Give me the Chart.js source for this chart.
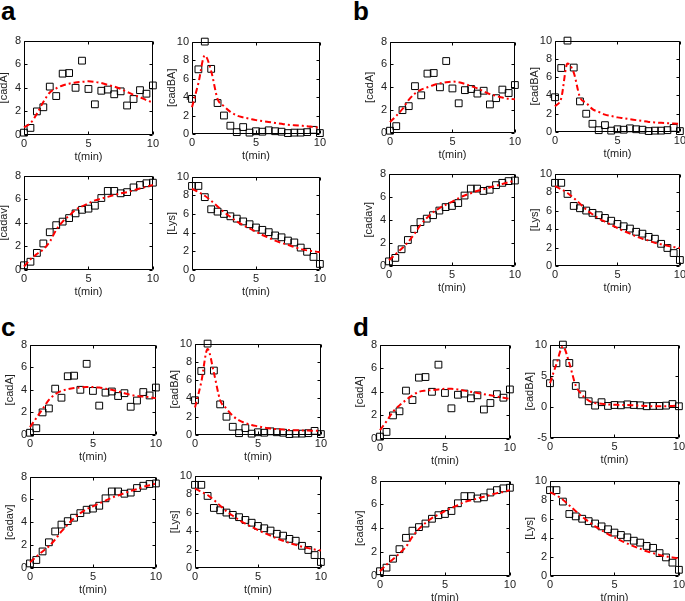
<!DOCTYPE html>
<html lang="en">
<head>
    <meta charset="UTF-8">
    <title>cadBA model fits</title>
    <script src="https://cdn.jsdelivr.net/npm/chart.js"></script>
    <style>
        html, body {
            margin: 0;
            padding: 0;
            width: 685px;
            height: 601px;
            overflow: hidden;
            background: #fff;
        }
        canvas {
            position: absolute;
        }
        .panelLetter {
            position: absolute;
            font: bold 26px "Liberation Sans", Arial, sans-serif;
            color: #000;
            line-height: 1;
        }
    </style>
</head>
<body>
<div class="panelLetter" style="left:1px;top:-2px">a</div>
<div class="panelLetter" style="left:353px;top:-2px">b</div>
<div class="panelLetter" style="left:1px;top:314px">c</div>
<div class="panelLetter" style="left:353px;top:314px">d</div>

<script>
    // sampling times (min)
    const tMin = [0, 0.5, 1, 1.5, 2, 2.5, 3, 3.5, 4, 4.5, 5, 5.5, 6, 6.5, 7, 7.5, 8, 8.5, 9, 9.5, 10];

    // measured data (same in every panel)
    const cadAData  = [0.2, 0.6, 2.0, 2.35, 4.1, 3.3, 5.2, 5.25, 4.0, 6.3, 3.9, 2.6, 3.75, 3.85, 3.45, 3.7, 2.5, 3.05, 3.8, 3.5, 4.2];
    const cadBAData = [3.8, 7.0, 10.0, 7.05, 3.35, 2.0, 0.9, 0.2, 0.75, 0.15, 0.3, 0.25, 0.4, 0.3, 0.25, 0.1, 0.15, 0.15, 0.2, 0.45, 0.1];
    const cadavData = [0.4, 0.7, 1.45, 2.25, 3.2, 3.8, 4.1, 4.4, 4.8, 5.1, 5.2, 5.45, 6.1, 6.7, 6.7, 6.5, 6.6, 7.0, 7.2, 7.35, 7.4];
    const lysData   = [9.0, 9.0, 7.8, 6.5, 6.25, 6.0, 5.75, 5.5, 5.2, 4.9, 4.55, 4.3, 4.05, 3.7, 3.5, 3.15, 2.95, 2.4, 1.95, 1.4, 0.65];

    // model fits, panel a
    const cadAFitA  = [0.65, 1.0, 1.8, 2.8, 3.6, 3.95, 4.2, 4.35, 4.45, 4.5, 4.55, 4.5, 4.4, 4.25, 4.1, 3.9, 3.65, 3.4, 3.2, 2.95, 2.75];
    const cadBAFitA = [2.9, 5.5, 8.5, 6.8, 3.8, 3.0, 2.4, 2.0, 1.8, 1.65, 1.5, 1.4, 1.3, 1.2, 1.1, 1.0, 0.95, 0.9, 0.85, 0.75, 0.7];
    const cadavFitA = [0.3, 0.9, 1.35, 1.75, 2.4, 3.4, 4.1, 4.6, 5.1, 5.4, 5.65, 5.9, 6.05, 6.2, 6.35, 6.5, 6.6, 6.75, 6.9, 7.05, 7.2];
    const lysFitA   = [8.7, 8.35, 7.95, 7.4, 6.8, 6.2, 5.7, 5.2, 4.8, 4.45, 4.1, 3.75, 3.45, 3.15, 2.9, 2.7, 2.45, 2.25, 2.1, 2.0, 1.9];

    // model fits, panel b
    const cadAFitB  = [0.95, 1.5, 2.1, 2.9, 3.45, 3.8, 4.0, 4.2, 4.35, 4.45, 4.5, 4.45, 4.3, 4.1, 3.9, 3.65, 3.4, 3.25, 3.1, 3.0, 2.95];
    const cadBAFitB = [2.8, 3.7, 7.5, 6.5, 3.8, 3.2, 2.5, 2.2, 1.9, 1.75, 1.6, 1.5, 1.4, 1.3, 1.2, 1.1, 1.05, 1.0, 0.97, 0.93, 0.9];
    const cadavFitB = [0.5, 1.0, 1.5, 2.05, 2.75, 3.55, 4.15, 4.65, 5.0, 5.3, 5.55, 5.85, 6.1, 6.3, 6.5, 6.65, 6.8, 6.95, 7.1, 7.25, 7.4];
    const lysFitB   = [8.65, 8.3, 7.9, 7.35, 6.75, 6.1, 5.6, 5.15, 4.8, 4.45, 4.1, 3.8, 3.5, 3.2, 2.95, 2.75, 2.5, 2.35, 2.2, 2.05, 1.95];

    // model fits, panel c
    const cadAFitC  = [0.7, 1.5, 2.3, 3.1, 3.6, 3.9, 4.05, 4.15, 4.2, 4.25, 4.25, 4.2, 4.1, 4.0, 3.85, 3.7, 3.55, 3.45, 3.4, 3.35, 3.25];
    const cadBAFitC = [3.0, 5.8, 9.4, 6.8, 3.8, 2.9, 2.1, 1.6, 1.3, 1.1, 0.95, 0.8, 0.7, 0.65, 0.6, 0.55, 0.52, 0.5, 0.48, 0.46, 0.45];
    const cadavFitC = [0.5, 1.0, 1.45, 1.9, 2.5, 3.2, 3.8, 4.35, 4.8, 5.15, 5.4, 5.65, 5.9, 6.15, 6.35, 6.55, 6.75, 6.9, 7.1, 7.25, 7.4];
    const lysFitC   = [8.6, 8.25, 7.9, 7.35, 6.75, 6.15, 5.65, 5.2, 4.8, 4.45, 4.1, 3.8, 3.5, 3.2, 2.95, 2.7, 2.5, 2.3, 2.15, 2.0, 1.9];

    // model fits, panel d
    const cadAFitD  = [0.75, 1.5, 2.3, 2.85, 3.3, 3.7, 4.0, 4.1, 4.15, 4.2, 4.25, 4.25, 4.2, 4.1, 4.0, 3.9, 3.8, 3.7, 3.6, 3.5, 3.4];
    const cadBAFitD = [3.8, 6.9, 9.7, 7.0, 3.4, 1.9, 1.0, 0.6, 0.5, 0.4, 0.35, 0.3, 0.3, 0.25, 0.2, 0.15, 0.1, 0.1, 0.1, 0.15, 0.2];
    const cadavFitD = [0.4, 0.95, 1.4, 1.9, 2.45, 3.3, 3.95, 4.45, 4.85, 5.15, 5.45, 5.7, 5.95, 6.2, 6.35, 6.5, 6.65, 6.8, 6.95, 7.05, 7.2];
    const lysFitD   = [8.8, 8.45, 8.0, 7.4, 6.8, 6.2, 5.7, 5.2, 4.8, 4.4, 4.05, 3.7, 3.4, 3.1, 2.85, 2.6, 2.4, 2.2, 2.05, 1.95, 1.85];

    // y axis ranges
    const cadARange   = [0, 8, 2];
    const cadBARange  = [0, 10, 2];
    const cadBARangeD = [-5, 10, 5];
    const cadavRange  = [0, 8, 2];
    const lysRange    = [0, 10, 2];

    const FONT = {family: '"Liberation Sans", Arial, sans-serif', size: 11};
    const AXIS_W = 31;   // room left of plot for y ticks + title
    const AXIS_H = 31;   // room under plot for x ticks + title
    const PAD_T = 8;
    const PAD_R = 8;

    // MATLAB style frame with inward ticks on all four sides
    const boxPlugin = {
        id: 'box',
        beforeDatasetsDraw(chart) {
            const {ctx, chartArea: a, scales} = chart;
            const L = Math.round(a.left) + 0.5, R = Math.round(a.right) - 0.5;
            const T = Math.round(a.top) + 0.5, B = Math.round(a.bottom) - 0.5;
            ctx.save();
            ctx.strokeStyle = '#000';
            ctx.lineWidth = 1;
            ctx.beginPath();
            ctx.rect(L, T, R - L, B - T);
            scales.x.ticks.forEach(tk => {
                const px = Math.round(scales.x.getPixelForValue(tk.value)) + 0.5;
                ctx.moveTo(px, B); ctx.lineTo(px, B - 3);
                ctx.moveTo(px, T); ctx.lineTo(px, T + 3);
            });
            scales.y.ticks.forEach(tk => {
                const py = Math.round(scales.y.getPixelForValue(tk.value)) + 0.5;
                ctx.moveTo(L, py); ctx.lineTo(L + 3, py);
                ctx.moveTo(R, py); ctx.lineTo(R - 3, py);
            });
            ctx.stroke();
            ctx.restore();
        }
    };

    function drawSubplot(box, label, data, fit, range) {
        const [l, t, r, b] = box;
        const canvas = document.createElement('canvas');
        const w = AXIS_W + (r - l) + PAD_R;
        const h = PAD_T + (b - t) + AXIS_H;
        canvas.width = w;
        canvas.height = h;
        canvas.style.left = (l - AXIS_W) + 'px';
        canvas.style.top = (t - PAD_T) + 'px';
        canvas.style.width = w + 'px';
        canvas.style.height = h + 'px';
        document.body.appendChild(canvas);

        new Chart(canvas, {
            type: 'scatter',
            data: {
                datasets: [{
                    label: 'model',
                    data: tMin.map((x, i) => ({x: x, y: fit[i]})),
                    showLine: true,
                    borderColor: '#ff0000',
                    borderWidth: 2,
                    borderDash: [6, 3, 2, 3],
                    pointRadius: 0,
                    cubicInterpolationMode: 'monotone',
                    clip: false
                }, {
                    label: 'data',
                    data: tMin.map((x, i) => ({x: x, y: data[i]})),
                    pointStyle: 'rect',
                    pointRadius: 4.8,
                    pointBorderWidth: 1,
                    pointBorderColor: '#000',
                    pointBackgroundColor: 'rgba(0,0,0,0)',
                    clip: false
                }]
            },
            options: {
                responsive: false,
                animation: false,
                devicePixelRatio: 1,
                layout: {padding: {left: 0, top: PAD_T, right: PAD_R, bottom: 0}},
                plugins: {legend: {display: false}, tooltip: {enabled: false}},
                scales: {
                    x: {
                        type: 'linear',
                        min: 0, max: 10,
                        ticks: {stepSize: 5, font: FONT, color: '#222', padding: 2, maxRotation: 0},
                        grid: {display: false, drawTicks: false, tickLength: 0},
                        border: {display: false},
                        title: {display: true, text: 't(min)', font: FONT, color: '#222', padding: {top: 0, bottom: 2}},
                        afterFit: s => { s.height = AXIS_H; }
                    },
                    y: {
                        min: range[0], max: range[1],
                        ticks: {stepSize: range[2], font: FONT, color: '#222', padding: 3},
                        grid: {display: false, drawTicks: false, tickLength: 0},
                        border: {display: false},
                        title: {display: true, text: label, font: FONT, color: '#222', padding: {top: 4, bottom: 0}},
                        afterFit: s => { s.width = AXIS_W; }
                    }
                }
            },
            plugins: [boxPlugin]
        });
    }

    // panel a
    drawSubplot([24, 39, 153, 135], '[cadA]', cadAData, cadAFitA, cadARange);
    drawSubplot([192, 40, 320, 134], '[cadBA]', cadBAData, cadBAFitA, cadBARange);
    drawSubplot([24, 174, 153, 270], '[cadav]', cadavData, cadavFitA, cadavRange);
    drawSubplot([192, 175, 320, 270], '[Lys]', lysData, lysFitA, lysRange);

    // panel b
    drawSubplot([390, 40, 515, 133], '[cadA]', cadAData, cadAFitB, cadARange);
    drawSubplot([555, 39, 680, 132], '[cadBA]', cadBAData, cadBAFitB, cadBARange);
    drawSubplot([389, 172, 515, 266], '[cadav]', cadavData, cadavFitB, cadavRange);
    drawSubplot([555, 172, 680, 266], '[Lys]', lysData, lysFitB, lysRange);

    // panel c
    drawSubplot([30, 343, 156, 435], '[cadA]', cadAData, cadAFitC, cadARange);
    drawSubplot([195, 342, 321, 435], '[cadBA]', cadBAData, cadBAFitC, cadBARange);
    drawSubplot([30, 475, 156, 568], '[cadav]', cadavData, cadavFitC, cadavRange);
    drawSubplot([195, 474, 321, 568], '[Lys]', lysData, lysFitC, lysRange);

    // panel d
    drawSubplot([380, 343, 510, 439], '[cadA]', cadAData, cadAFitD, cadARange);
    drawSubplot([550, 343, 679, 438], '[cadBA]', cadBAData, cadBAFitD, cadBARangeD);
    drawSubplot([380, 479, 510, 576], '[cadav]', cadavData, cadavFitD, cadavRange);
    drawSubplot([550, 479, 679, 576], '[Lys]', lysData, lysFitD, lysRange);
</script>
</body>
</html>
